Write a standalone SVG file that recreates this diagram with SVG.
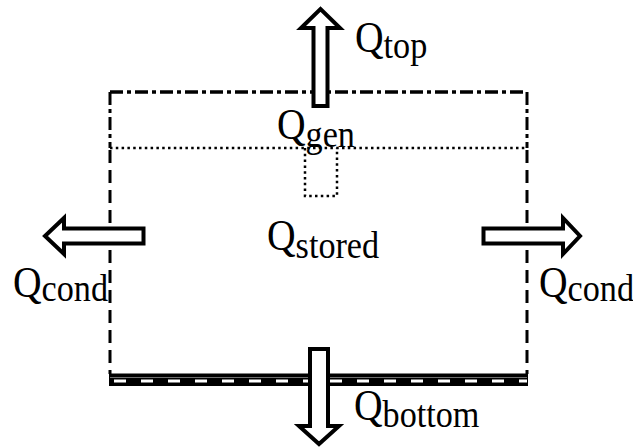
<svg xmlns="http://www.w3.org/2000/svg" width="633" height="447" viewBox="0 0 633 447">
<style>
.lbl{font-family:'Liberation Serif','Times New Roman',serif;fill:#000}
.q{font-size:44px}
.s{font-size:38px}
.arrow{fill:#fff;stroke:#000;stroke-width:4;stroke-linejoin:miter}
.dashdot{fill:none;stroke:#000;stroke-width:3.5;stroke-dasharray:13 4 4 4}
.dash{fill:none;stroke:#000;stroke-width:3;stroke-dasharray:13 7}
.dot{fill:none;stroke:#000;stroke-width:2.5;stroke-dasharray:2.5 3.3}
</style>
<rect width="633" height="447" fill="#fff"/>
<g id="volume">
  <path class="dashdot" d="M110,92 H527"/>
  <path class="dashdot" style="stroke-width:3" d="M110,92 V148 M527,92 V148"/>
  <path class="dash" d="M110,150 V374 M527,150 V374"/>
  <path class="dot" d="M110,148 H527"/>
  <rect x="109" y="373.5" width="419" height="12.5" fill="#000"/>
  <path d="M110,377.6 H527" stroke="#fff" stroke-width="0.8" opacity="0.6"/>
  <path d="M114,381 H527" stroke="#fff" stroke-width="3" stroke-dasharray="12 15"/>
</g>
<g id="generation">
  <path class="dot" d="M305,148 V196 H337 V148"/>
</g>
<g id="connectors">
  <path class="arrow" d="M313.5,106 L313.5,28 L301,28 L320.5,9 L340,28 L327.5,28 L327.5,106 Z"/>
  <path class="arrow" d="M310,349 L328,349 L328,426 L339,426 L319,444 L299,426 L310,426 Z"/>
  <path class="arrow" d="M143.5,228.5 L64,228.5 L64,218 L45,236 L64,254 L64,243.5 L143.5,243.5 Z"/>
  <path class="arrow" d="M483.5,228.5 L563,228.5 L563,218 L580,236 L563,254 L563,243.5 L483.5,243.5 Z"/>
</g>
<g id="label-top"><text class="lbl" transform="translate(355,52) scale(0.9,1)"><tspan class="q">Q</tspan><tspan class="s" dy="6">top</tspan></text></g>
<g id="label-gen"><text class="lbl" transform="translate(277,139) scale(0.9,1)"><tspan class="q">Q</tspan><tspan class="s" dy="8">gen</tspan></text></g>
<g id="label-stored"><text class="lbl" transform="translate(267,250) scale(0.9,1)"><tspan class="q">Q</tspan><tspan class="s" dy="8">stored</tspan></text></g>
<g id="label-cond-left"><text class="lbl" transform="translate(13,297) scale(0.9,1)"><tspan class="q">Q</tspan><tspan class="s" dy="4">cond</tspan></text></g>
<g id="label-cond-right"><text class="lbl" transform="translate(539,297) scale(0.9,1)"><tspan class="q">Q</tspan><tspan class="s" dy="4">cond</tspan></text></g>
<g id="label-bottom"><text class="lbl" transform="translate(354,420) scale(0.9,1)"><tspan class="q">Q</tspan><tspan class="s" dy="7">bottom</tspan></text></g>
</svg>
